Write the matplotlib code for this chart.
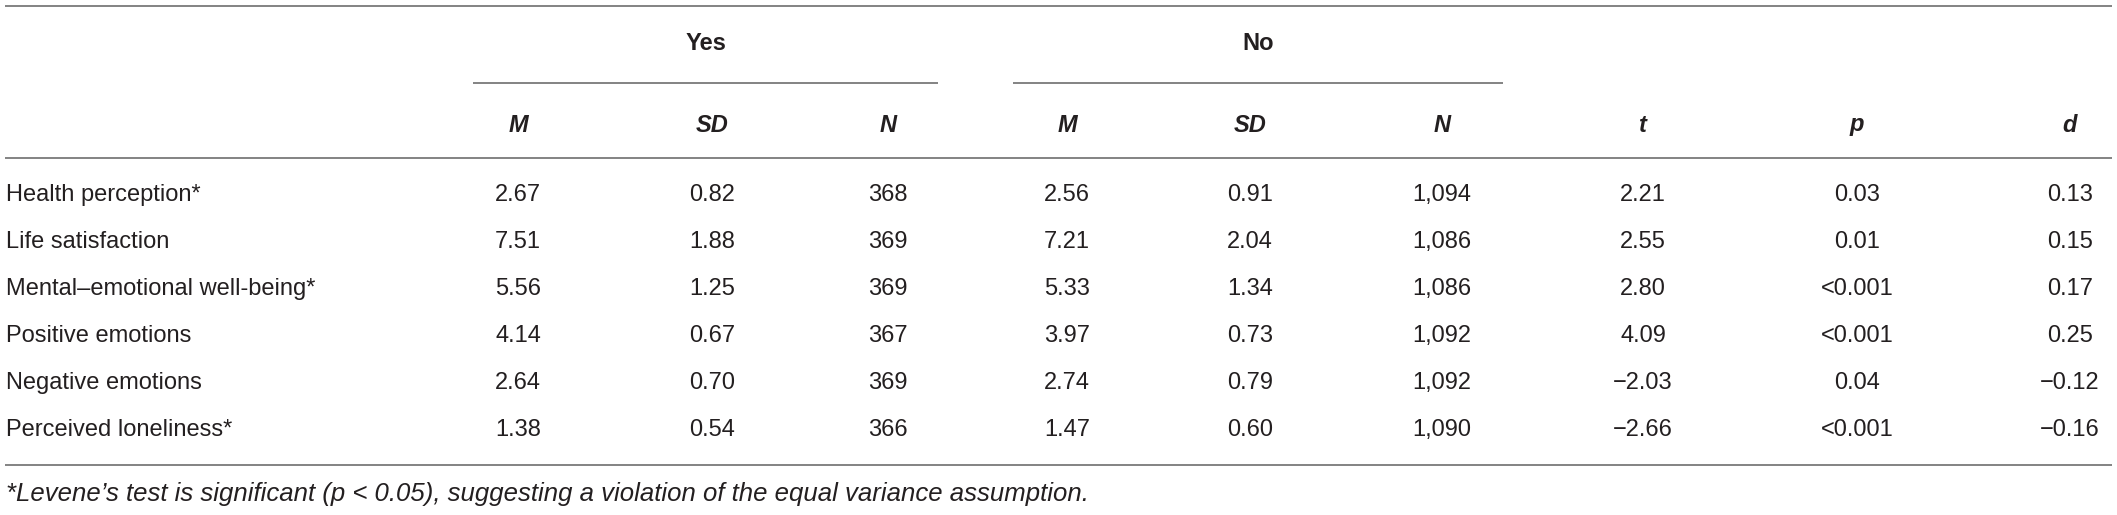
import matplotlib.pyplot as plt

# table content
row_labels = [
    "Health perception*",
    "Life satisfaction",
    "Mental\u2013emotional well-being*",
    "Positive emotions",
    "Negative emotions",
    "Perceived loneliness*",
]
yes_m = ["2.67", "7.51", "5.56", "4.14", "2.64", "1.38"]
yes_sd = ["0.82", "1.88", "1.25", "0.67", "0.70", "0.54"]
yes_n = ["368", "369", "369", "367", "369", "366"]
no_m = ["2.56", "7.21", "5.33", "3.97", "2.74", "1.47"]
no_sd = ["0.91", "2.04", "1.34", "0.73", "0.79", "0.60"]
no_n = ["1,094", "1,086", "1,086", "1,092", "1,092", "1,090"]
t_vals = ["2.21", "2.55", "2.80", "4.09", "\u22122.03", "\u22122.66"]
p_vals = ["0.03", "0.01", "<0.001", "<0.001", "0.04", "<0.001"]
d_vals = ["0.13", "0.15", "0.17", "0.25", "\u22120.12", "\u22120.16"]
col_headers = ["M", "SD", "N", "M", "SD", "N", "t", "p", "d"]
groups = ["Yes", "No"]
footnote = ("*Levene\u2019s test is significant (p < 0.05), suggesting a "
            "violation of the equal variance assumption.")

# layout in pixels
W, H = 2117, 515
col_x = [518, 712, 888, 1067, 1250, 1442, 1643, 1857, 2070]
row_y0, row_step = 195, 47
group_spans = [(473, 938), (1013, 1503)]
line_color = "#7a7a7a"
text_color = "#231f20"
font = ["Liberation Sans", "DejaVu Sans"]
fs = 17

fig = plt.figure(figsize=(W / 100, H / 100), dpi=100)
ax = fig.add_axes([0, 0, 1, 1])
ax.set_xlim(0, W)
ax.set_ylim(H, 0)
ax.axis("off")

# rules
for y in (6, 158, 465):
    ax.plot([5, 2112], [y, y], color=line_color, lw=1.3, solid_capstyle="butt")
for (x0, x1), name in zip(group_spans, groups):
    ax.plot([x0, x1], [83, 83], color=line_color, lw=1.3, solid_capstyle="butt")
    ax.text((x0 + x1) / 2, 44, name, ha="center", va="center", fontsize=fs,
            fontweight="bold", color=text_color, family=font)

for x, h in zip(col_x, col_headers):
    ax.text(x, 125, h, ha="center", va="center", fontsize=fs, fontweight="bold",
            fontstyle="italic", color=text_color, family=font)

columns = [yes_m, yes_sd, yes_n, no_m, no_sd, no_n, t_vals, p_vals, d_vals]
for i, label in enumerate(row_labels):
    y = row_y0 + i * row_step
    ax.text(6, y, label, ha="left", va="center", fontsize=fs,
            color=text_color, family=font)
    for x, col in zip(col_x, columns):
        ax.text(x, y, col[i], ha="center", va="center", fontsize=fs,
                color=text_color, family=font)

ax.text(6, 494, footnote, ha="left", va="center", fontsize=18.5,
        fontstyle="italic", color=text_color, family=font)

fig.savefig("out.png", dpi=100)
plt.close(fig)
